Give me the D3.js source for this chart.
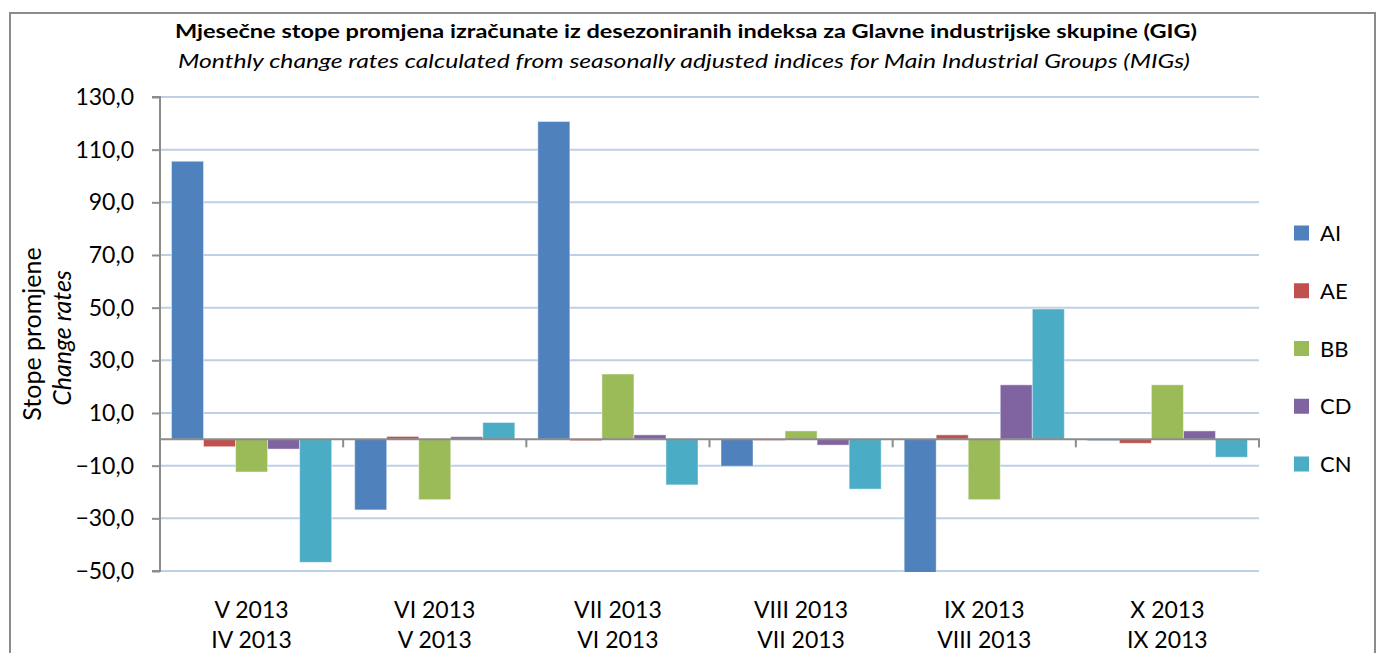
<!DOCTYPE html>
<html>
<head>
<meta charset="utf-8">
<script src="https://cdn.jsdelivr.net/npm/d3@7"></script>
<style>
  html, body { margin: 0; padding: 0; background: #fff; }
  svg { display: block; }
  text { font-family: Lato, "Open Sans", sans-serif; fill: #000; }
</style>
</head>
<body>
<svg id="chart" width="1379" height="653"></svg>
<script>
const categoriesTop = ["V 2013", "VI 2013", "VII 2013", "VIII 2013", "IX 2013", "X 2013"];
const categoriesBottom = ["IV 2013", "V 2013", "VI 2013", "VII 2013", "VIII 2013", "IX 2013"];
const seriesNames = ["AI", "AE", "BB", "CD", "CN"];
const valuesAI = [105.6, -26.8, 120.7, -10.2, -51.0, -0.5];
const valuesAE = [-2.8, 1.1, -0.5, -0.3, 1.7, -1.5];
const valuesBB = [-12.4, -22.9, 24.8, 3.2, -22.9, 20.7];
const valuesCD = [-3.7, 1.0, 1.7, -2.2, 20.7, 3.2];
const valuesCN = [-46.7, 6.4, -17.3, -18.9, 49.5, -6.8];
const yTicks = [-50, -30, -10, 10, 30, 50, 70, 90, 110, 130];
const colors = ["#4f81bd", "#c0504d", "#9bbb59", "#8064a2", "#4bacc6"];

const seriesValues = [valuesAI, valuesAE, valuesBB, valuesCD, valuesCN];

const svg = d3.select("#chart");

// outer frame
svg.append("rect")
  .attr("x", 10).attr("y", 13).attr("width", 1365).attr("height", 660)
  .attr("fill", "#fff").attr("stroke", "#8c8c8c").attr("stroke-width", 2);

const plot = { left: 160, right: 1259, top: 97, bottom: 571 };

const y = d3.scaleLinear().domain([-50, 130]).range([plot.bottom, plot.top]);
const x0 = d3.scaleBand().domain(d3.range(categoriesTop.length))
  .range([plot.left, plot.right]).paddingInner(0).paddingOuter(0);
const groupPad = 11.5;
const x1 = d3.scaleBand().domain(seriesNames)
  .range([groupPad, x0.bandwidth() - groupPad]).padding(0);

// gridlines
svg.append("g")
  .selectAll("line").data(yTicks).join("line")
  .attr("x1", plot.left).attr("x2", plot.right)
  .attr("y1", d => y(d)).attr("y2", d => y(d))
  .attr("stroke", "#bcd0e6").attr("stroke-width", 2);

// clip
svg.append("clipPath").attr("id", "clip")
  .append("rect").attr("x", plot.left).attr("y", plot.top)
  .attr("width", plot.right - plot.left).attr("height", plot.bottom - plot.top + 1);

// bars
const gBars = svg.append("g").attr("clip-path", "url(#clip)");
seriesNames.forEach((name, si) => {
  gBars.append("g")
    .selectAll("rect").data(seriesValues[si]).join("rect")
    .attr("x", (d, i) => x0(i) + x1(name))
    .attr("width", x1.bandwidth())
    .attr("y", d => y(Math.max(0, d)))
    .attr("height", d => Math.max(1, Math.abs(y(d) - y(0))))
    .attr("fill", colors[si])
    .attr("stroke", "rgba(255,255,255,0.45)")
    .attr("stroke-width", 1);
});

// y axis
const yAxis = d3.axisLeft(y).tickValues(yTicks).tickSize(8).tickPadding(18)
  .tickFormat(d => d3.format(".1f")(d).replace(".", ","));
const gy = svg.append("g").attr("transform", `translate(${plot.left},0)`).call(yAxis);
gy.select(".domain").attr("stroke", "#8c8c8c").attr("stroke-width", 2)
  .attr("d", `M-8,${plot.top}H0V${plot.bottom}H-8`);
gy.selectAll(".tick line").attr("stroke", "#8c8c8c").attr("stroke-width", 2);
gy.selectAll(".tick text").style("font-family", "Lato, sans-serif").style("font-size", "23px").attr("fill", "#000");

// zero axis with category ticks
const xAxis = d3.axisBottom(x0).tickSize(0).tickFormat("");
const gx = svg.append("g").attr("transform", `translate(0,${y(0)})`).call(xAxis);
gx.select(".domain").attr("stroke", "#8c8c8c").attr("stroke-width", 2)
  .attr("d", `M${plot.left},0H${plot.right}V8`);
const bounds = d3.range(categoriesTop.length + 1).map(i => plot.left + i * x0.bandwidth());
gx.selectAll(".bnd").data(bounds).join("line").attr("class", "bnd")
  .attr("x1", d => d).attr("x2", d => d).attr("y1", 0).attr("y2", 8)
  .attr("stroke", "#8c8c8c").attr("stroke-width", 2);

// category labels
const gLab = svg.append("g");
gLab.selectAll("text.l1").data(categoriesTop).join("text").attr("class", "l1")
  .attr("x", (d, i) => x0(i) + x0.bandwidth() / 2).attr("y", 618)
  .attr("text-anchor", "middle").style("font-size", "23px").text(d => d);
gLab.selectAll("text.l2").data(categoriesBottom).join("text").attr("class", "l2")
  .attr("x", (d, i) => x0(i) + x0.bandwidth() / 2).attr("y", 648)
  .attr("text-anchor", "middle").style("font-size", "23px").text(d => d);

// y axis title
const midY = (plot.top + plot.bottom) / 2;
svg.append("text").attr("transform", `translate(41,${midY}) rotate(-90)`)
  .attr("text-anchor", "middle").style("font-size", "25px").text("Stope promjene");
svg.append("text").attr("transform", `translate(71,${midY + 4}) rotate(-90)`)
  .attr("text-anchor", "middle").style("font-size", "25px").style("font-style", "italic").text("Change rates");

// titles
svg.append("text").attr("x", 686).attr("y", 38).attr("text-anchor", "middle")
  .style("font-size", "19px").style("font-weight", "bold")
  .attr("textLength", 1022).attr("lengthAdjust", "spacingAndGlyphs")
  .text("Mjesečne stope promjena izračunate iz desezoniranih  indeksa za Glavne industrijske  skupine (GIG)");
svg.append("text").attr("x", 684).attr("y", 68).attr("text-anchor", "middle")
  .style("font-size", "19px").style("font-style", "italic")
  .attr("textLength", 1012).attr("lengthAdjust", "spacingAndGlyphs")
  .text("Monthly change rates calculated from seasonally adjusted indices for Main  Industrial Groups (MIGs)");

// legend
const legend = svg.append("g");
const legY = d3.scalePoint().domain(seriesNames).range([233, 464]);
seriesNames.forEach((name, i) => {
  legend.append("rect").attr("x", 1294).attr("y", legY(name) - 7.5)
    .attr("width", 15).attr("height", 15).attr("fill", colors[i]);
  legend.append("text").attr("x", 1320).attr("y", legY(name) + 8)
    .style("font-size", "22px").text(name);
});
</script>
</body>
</html>
